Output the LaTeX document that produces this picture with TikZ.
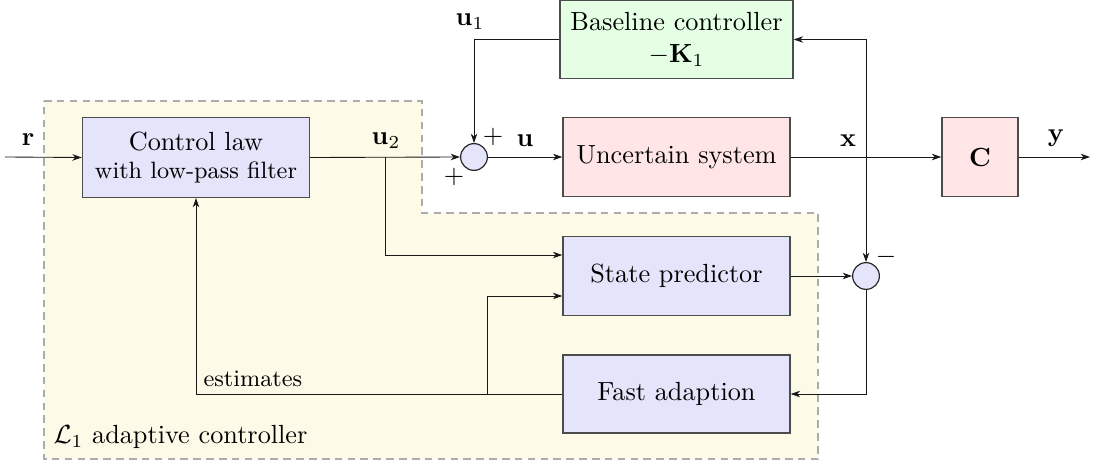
\documentclass[tikz,border=0pt]{standalone}
\usetikzlibrary{arrows.meta,calc}
\definecolor{regionfill}{RGB}{254,250,232}
\definecolor{boxblue}{RGB}{228,228,251}
\begin{document}
\begin{tikzpicture}[x=0.381pt,y=-0.381pt,
  >={Stealth[length=3.6pt,width=2.5pt]},
  block/.style={draw=black!70,line width=0.55pt,minimum width=86.5pt,minimum height=30.3pt,align=center,inner sep=1pt},
  bluebox/.style={block,fill=boxblue},
  sumnode/.style={circle,draw=black!85,line width=0.45pt,fill=boxblue,minimum size=10.2pt,inner sep=0pt},
  sig/.style={inner sep=0pt},
  wire/.style={black!90,line width=0.33pt}]
\useasboundingbox (0,0) rectangle (1097,467);

% adaptive controller region
\draw[gray!65,fill=regionfill,line width=0.55pt,dash pattern=on 2.9pt off 2pt]
  (44,101) -- (422,101) -- (422,213) -- (818,213) -- (818,459) -- (44,459) -- cycle;

% blocks
\node[bluebox] (cl) at (196,157.5) {Control law\\[-1pt]{\small with low-pass filter}};
\node[block,fill=red!10] (us) at (676.5,157) {Uncertain system};
\node[block,fill=green!10,minimum width=88.8pt,minimum height=29.7pt] (bc) at (676.5,39.5) {Baseline controller\\$-\mathbf{K}_1$};
\node[block,fill=red!10,minimum width=29pt] (cb) at (980,157) {$\mathbf{C}$};
\node[bluebox] (sp) at (676.5,276) {State predictor};
\node[bluebox,minimum height=29.7pt] (fa) at (676.5,394) {Fast adaption};
\node[sumnode] (s1) at (474,157) {};
\node[sumnode] (s2) at (866,276) {};

% junctions and free ends
\coordinate (rin) at (5,157);
\coordinate (yout) at (1090,157);
\coordinate (ju2) at (385,157);
\coordinate (jx) at (866,157);
\coordinate (jest) at (487,394);

% signal labels
\node[sig] (lr) at (28,140) {$\mathbf{r}$};
\node[sig] (lu2) at (386,141) {$\mathbf{u}_2$};
\node[sig] (lu) at (525,141) {$\mathbf{u}$};
\node[sig] (lu1) at (470,22) {$\mathbf{u}_1$};
\node[sig] (lx) at (848,141) {$\mathbf{x}$};
\node[sig] (ly) at (1056,138) {$\mathbf{y}$};
\node[sig] (p1) at (493,137) {$+$};
\node[sig] (p2) at (454,177) {$+$};
\node[sig] (m1) at (886,257) {$-$};
\node[sig,anchor=west] (lest) at (203,379) {\small estimates};
\node[sig,anchor=west] (lreg) at (53,437) {$\mathcal{L}_1$ adaptive controller};

% connections
\draw[wire,->] (rin) -- (cl.west);
\draw[wire,->] (cl.east) -- (s1.west);
\draw[wire,->] (ju2) |- ($(sp.west)+(0,-21)$);
\draw[wire,->] (s1.east) -- (us.west);
\draw[wire,->] (us.east) -- (cb.west);
\draw[wire,->] (cb.east) -- (yout);
\draw[wire,->] (jx) |- (bc.east);
\draw[wire,->] (jx) -- (s2.north);
\draw[wire,->] (bc.west) -| (s1.north);
\draw[wire,->] (sp.east) -- (s2.west);
\draw[wire,->] (s2.south) |- (fa.east);
\draw[wire,->] (fa.west) -| (cl.south);
\draw[wire,->] (jest) |- ($(sp.west)+(0,20)$);
\end{tikzpicture}
\end{document}
